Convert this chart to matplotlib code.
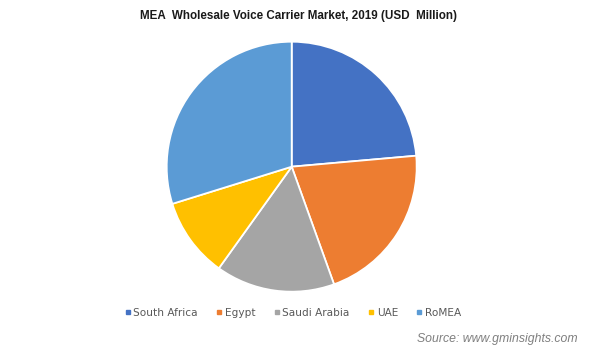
import matplotlib
matplotlib.use('Agg')
import matplotlib.pyplot as plt
from matplotlib.lines import Line2D

# ── Data ───────────────────────────────────────────────────────────────────
regions = ['South Africa', 'Egypt', 'Saudi Arabia', 'UAE', 'RoMEA']
shares = [23.6, 20.9, 15.4, 10.3, 29.8]
colors = ['#4472c4', '#ed7d31', '#a5a5a5', '#ffc000', '#5b9bd5']

TITLE = 'MEA  Wholesale Voice Carrier Market, 2019 (USD  Million)'
SOURCE = 'Source: www.gminsights.com'

W, H = 598, 351
fig = plt.figure(figsize=(W / 100, H / 100), dpi=100)

# pie box in pixels: centre (291.7, 166.7), radius 125
cx, cy, r = 291.7, 166.7, 125
ax = fig.add_axes([(cx - r) / W, (H - cy - r) / H, 2 * r / W, 2 * r / H])
wedges, _ = ax.pie(shares, colors=colors, startangle=90, counterclock=False,
                   wedgeprops=dict(edgecolor='white', linewidth=1.3))
ax.set_xlim(-1, 1)
ax.set_ylim(-1, 1)
ax.axis('off')

fig.text(299 / W, 1 - 16 / H, TITLE, ha='center', va='center',
         fontsize=8.4, fontweight='bold', family='Liberation Sans', color='#1a1a1a')

handles = [Line2D([], [], linestyle='none', marker='s', markersize=3.0,
                  markerfacecolor=c, markeredgecolor=c) for c in colors]
leg = fig.legend(handles, regions, loc='center', bbox_to_anchor=(293 / W, 1 - 312.5 / H),
                 ncol=5, frameon=False, fontsize=7.6, handlelength=0.5,
                 handletextpad=0.3, columnspacing=1.75, borderaxespad=0)
for t in leg.get_texts():
    t.set_color('#595959')

fig.text(578 / W, 1 - 339 / H, SOURCE, ha='right', va='center', fontsize=8.8,
         style='italic', family='Liberation Sans', color='#7f7f7f')

fig.savefig('out.png', dpi=100)
